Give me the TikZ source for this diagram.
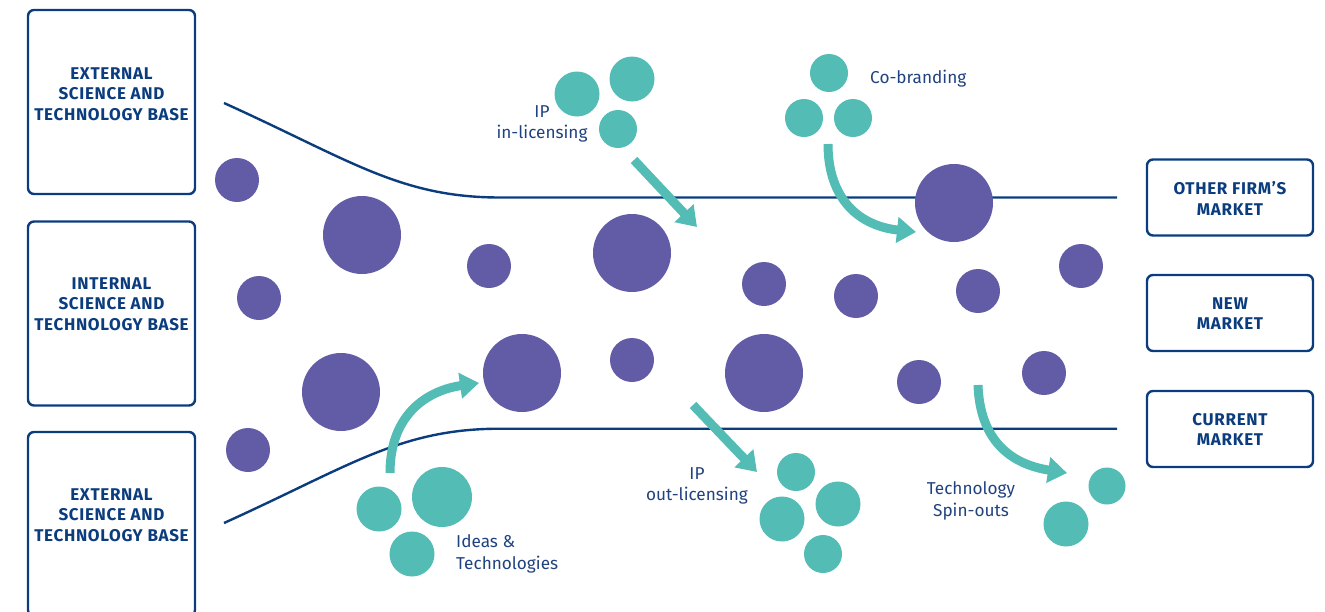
\documentclass[tikz,border=0pt]{standalone}
\usepackage{fontspec}
\setmainfont{Fira Sans}
\newfontfamily\boxfont[LetterSpace=4]{Fira Sans}
\usetikzlibrary{arrows.meta}
\definecolor{navy}{HTML}{0B3D7E}
\definecolor{labelblue}{HTML}{20427F}
\definecolor{dotpurple}{HTML}{625CA6}
\definecolor{dotteal}{HTML}{52BCB5}
\begin{document}
\begin{tikzpicture}[x=1pt,y=-1pt,
  basebox/.style={draw=navy, line width=2.4pt, rounded corners=6pt, minimum width=167pt, minimum height=184pt, inner sep=0pt},
  marketbox/.style={draw=navy, line width=2.4pt, rounded corners=6pt, minimum width=166pt, minimum height=76pt, inner sep=0pt},
  boxtext/.style={font=\boxfont\bfseries\fontsize{17}{20.7}\selectfont, text=navy, align=center, inner sep=0pt},
  lbl/.style={font=\fontsize{17.2}{21.5}\selectfont, text=labelblue, inner sep=0pt},
  pdot/.style={circle, fill=dotpurple, inner sep=0pt, minimum size=#1},
  tdot/.style={circle, fill=dotteal, inner sep=0pt, minimum size=#1},
  funnel/.style={draw=navy, line width=2.4pt},
  flow/.style={draw=dotteal, line width=9pt, -{Triangle[width=25pt,length=19pt]}}
]
\useasboundingbox (0,0) rectangle (1325,611);
\clip (0,0) rectangle (1325,611);

% science and technology bases
\node[basebox] (ext1) at (111.5,102) {};
\node[basebox] (int) at (111.5,313.5) {};
\node[basebox] (ext2) at (111.5,524) {};
\node[boxtext] (ext1t) at (111.5,94) {EXTERNAL\\SCIENCE AND\\TECHNOLOGY BASE};
\node[boxtext] (intt) at (111.5,304) {INTERNAL\\SCIENCE AND\\TECHNOLOGY BASE};
\node[boxtext] (ext2t) at (111.5,515) {EXTERNAL\\SCIENCE AND\\TECHNOLOGY BASE};

% markets
\node[marketbox] (other) at (1230,197.5) {};
\node[marketbox] (new) at (1230,313) {};
\node[marketbox] (current) at (1230,429) {};
\node[boxtext] (othert) at (1230,198.5) {OTHER FIRM’S\\MARKET};
\node[boxtext] (newt) at (1230,313.5) {NEW\\MARKET};
\node[boxtext] (currentt) at (1230,429.5) {CURRENT\\MARKET};

% funnel boundaries
\coordinate (topA) at (224,103);
\coordinate (topB) at (500,197.5);
\coordinate (topC) at (1117,197.5);
\coordinate (botA) at (224,523);
\coordinate (botB) at (500,428.7);
\coordinate (botC) at (1117,428.7);
\draw[funnel] (topA) .. controls (350,160) and (400,197.5) .. (topB) -- (topC);
\draw[funnel] (botA) .. controls (350,466) and (400,428.7) .. (botB) -- (botC);

% projects inside the firm
\foreach \n/\x/\y/\d in {
  1/237/180/44, 2/362/235/78, 3/489/266/44, 4/632/253/78, 5/764/284/44,
  6/856/296/44, 7/954/203/78, 8/978/291/44, 9/1081/266/44, 10/259/298/44,
  11/341/392/78, 12/522/373/78, 13/632/360/44, 14/764/373/78, 15/919/382/44,
  16/1044/373/44, 17/248/450/44}
  \node[pdot=\d pt] (p\n) at (\x,\y) {};

% outside ideas and technologies
\node[tdot=45pt] (ia) at (577,94) {};
\node[tdot=45pt] (ib) at (632,79) {};
\node[tdot=38pt] (ic) at (618,129) {};
\node[tdot=38pt] (ca) at (829,73) {};
\node[tdot=38pt] (cb) at (804,118) {};
\node[tdot=38pt] (cc) at (853,118) {};
\node[tdot=45pt] (da) at (379,509) {};
\node[tdot=60pt] (db) at (442,497) {};
\node[tdot=45pt] (dc) at (412,554) {};
\node[tdot=38pt] (oa) at (796,472) {};
\node[tdot=45pt] (ob) at (782,519) {};
\node[tdot=45pt] (oc) at (838,504) {};
\node[tdot=38pt] (od) at (823,554) {};
\node[tdot=37pt] (sa) at (1107,486) {};
\node[tdot=45pt] (sb) at (1066,524) {};

% labels
\node[lbl, align=center] (inlic) at (542,124) {IP\\in-licensing};
\node[lbl, anchor=west] (cobrand) at (870,79) {Co-branding};
\node[lbl, align=left, anchor=west] (ideas) at (456,554) {Ideas \&\\Technologies};
\node[lbl, align=center] (outlic) at (697,486) {IP\\out-licensing};
\node[lbl, align=center] (spin) at (971,501) {Technology\\Spin-outs};

% flows
\coordinate (inS) at (634,160);
\coordinate (inE) at (697,227);
\coordinate (coS) at (828,144);
\coordinate (coE) at (916,232);
\coordinate (idS) at (390,473);
\coordinate (idE) at (479,383);
\coordinate (outS) at (693,405);
\coordinate (outE) at (757,472);
\coordinate (spS) at (978,385);
\coordinate (spE) at (1067,473);
\draw[flow] (inS) -- (inE);
\draw[flow] (coS) .. controls (828,200) and (860,226) .. (coE);
\draw[flow] (idS) .. controls (390,412) and (430,390) .. (idE);
\draw[flow] (outS) -- (outE);
\draw[flow] (spS) .. controls (980,440) and (1010,464) .. (spE);
\end{tikzpicture}
\end{document}
